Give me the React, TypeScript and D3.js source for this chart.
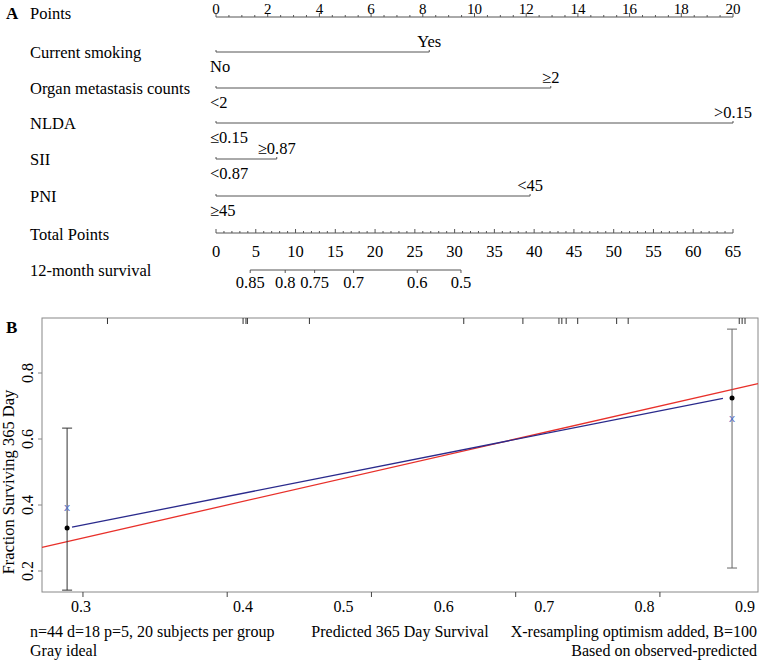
import React from "react";
import * as d3 from "d3";

// ---------- Panel A: nomogram data ----------
const pointsTicks = d3.range(0, 21, 2);
const pointsMinor = d3.range(0, 20.01, 0.5);
const variableNames = ["Current smoking", "Organ metastasis counts", "NLDA", "SII", "PNI"];
const lowLabels = ["No", "<2", "≤0.15", "<0.87", "≥45"];
const highLabels = ["Yes", "≥2", ">0.15", "≥0.87", "<45"];
const highPoints = [8.25, 12.95, 20, 2.35, 12.15];
const totalTicks = d3.range(0, 66, 5);
const totalMinor = d3.range(0, 66, 1);
const survivalLabels = ["0.85", "0.8", "0.75", "0.7", "0.6", "0.5"];
const survivalTotalPoints = [4.3, 8.7, 12.4, 17.3, 25.3, 30.8];

// ---------- Panel B: calibration data ----------
const groupPredicted = [0.289, 0.75];
const groupObserved = [0.33, 0.724];
const groupCorrected = [0.394, 0.664];
const groupLower = [0.142, 0.209];
const groupUpper = [0.633, 0.933];
const calibPredicted = [0.2924, 0.7437];
const calibObserved = [0.333, 0.723];
const rugPredicted = [0.317, 0.411, 0.413, 0.414, 0.457, 0.564, 0.605, 0.63, 0.632, 0.635, 0.643, 0.67, 0.678, 0.755, 0.757, 0.759];
const xTicks = [0.3, 0.4, 0.5, 0.6, 0.7];
const xTickLabels = [0.3, 0.4, 0.5, 0.6, 0.7, 0.8, 0.9];
const yTicks = [0.2, 0.4, 0.6, 0.8];

const FONT = "Liberation Serif, Times New Roman, serif";

export default function App() {
  const px = d3.scaleLinear().domain([0, 20]).range([216, 733]);
  const tx = d3.scaleLinear().domain([0, 65]).range([216, 733]);
  const rowY = [52, 88, 123, 159, 196];
  const axisColor = "#555";

  // Panel B scales
  const box = { x0: 42, x1: 758, y0: 318, y1: 592 };
  const xs = d3.scaleLinear().domain([0.2716, 0.768]).range([box.x0, box.x1]);
  const yScale = d3.scaleLinear().domain([0.2, 1.2]).range([571, 571 - 330]);
  const labelScale = d3.scaleLinear().domain([0.3, 0.4, 0.9]).range([81, 243, 745]);
  const ideal = d3.line<number>().x((v) => xs(v)).y((v) => yScale(v));
  const calib = d3.line<[number, number]>().x((d) => xs(d[0])).y((d) => yScale(d[1]));
  const calibPts: [number, number][] = calibPredicted.map((p, i) => [p, calibObserved[i]]);

  return (
    <svg width={759} height={660} style={{ position: "absolute", left: 0, top: 0, background: "#fff", fontFamily: FONT }} fontSize={16.5}>
      {/* ---------- Panel A ---------- */}
      <text x={6} y={19} fontWeight="bold" fontSize={17}>A</text>
      <text x={30} y={19}>Points</text>
      <line x1={px(0)} x2={px(20)} y1={17} y2={17} stroke={axisColor} />
      {pointsMinor.map((v) => (
        <line key={"pm" + v} x1={px(v)} x2={px(v)} y1={17} y2={pointsTicks.includes(v) ? 13 : 15} stroke={axisColor} />
      ))}
      {pointsTicks.map((v) => (
        <text key={"pt" + v} x={px(v)} y={14} textAnchor="middle" fontSize={15}>{v}</text>
      ))}

      {variableNames.map((name, i) => {
        const y = rowY[i];
        const x0 = px(0);
        const x1 = px(highPoints[i]);
        return (
          <g key={name}>
            <text x={30} y={y + 6}>{name}</text>
            <line x1={x0} x2={x1} y1={y} y2={y} stroke={axisColor} />
            <line x1={x0} x2={x0} y1={y} y2={y - 2} stroke={axisColor} />
            <line x1={x1} x2={x1} y1={y} y2={y - 2} stroke={axisColor} />
            <text x={x0 - 6} y={y + 20}>{lowLabels[i]}</text>
            <text x={x1} y={y - 5} textAnchor="middle">{highLabels[i]}</text>
          </g>
        );
      })}

      <text x={30} y={240}>Total Points</text>
      <line x1={tx(0)} x2={tx(65)} y1={233} y2={233} stroke={axisColor} />
      {totalMinor.map((v) => (
        <line key={"tm" + v} x1={tx(v)} x2={tx(v)} y1={233} y2={totalTicks.includes(v) ? 229 : 231} stroke={axisColor} />
      ))}
      {totalTicks.map((v) => (
        <text key={"tt" + v} x={tx(v)} y={257} textAnchor="middle">{v}</text>
      ))}

      <text x={30} y={276}>12-month survival</text>
      <line x1={tx(survivalTotalPoints[0])} x2={tx(survivalTotalPoints[survivalTotalPoints.length - 1])} y1={270} y2={270} stroke={axisColor} />
      {survivalTotalPoints.map((p, i) => (
        <g key={"sv" + i}>
          <line x1={tx(p)} x2={tx(p)} y1={270} y2={273} stroke={axisColor} />
          <text x={tx(p)} y={288} textAnchor="middle">{survivalLabels[i]}</text>
        </g>
      ))}

      {/* ---------- Panel B ---------- */}
      <text x={6} y={333} fontWeight="bold" fontSize={17}>B</text>
      <rect x={box.x0} y={box.y0} width={box.x1 - box.x0} height={box.y1 - box.y0} fill="none" stroke="#888" />

      {rugPredicted.map((v, i) => (
        <line key={"rug" + i} x1={xs(v)} x2={xs(v)} y1={box.y0} y2={box.y0 + 6} stroke="#333" strokeWidth={1} />
      ))}

      {xTicks.map((v) => (
        <line key={"xt" + v} x1={xs(v)} x2={xs(v)} y1={box.y1} y2={box.y1 + 5} stroke="#444" />
      ))}
      {xTickLabels.map((v) => (
        <text key={"xl" + v} x={labelScale(v)} y={612} textAnchor="middle" fontSize={16}>{v.toFixed(1)}</text>
      ))}

      {yTicks.map((v) => (
        <g key={"yt" + v}>
          <line x1={box.x0} x2={box.x0 - 4} y1={yScale(v)} y2={yScale(v)} stroke="#888" />
          <text transform={`translate(33,${yScale(v)}) rotate(-90)`} textAnchor="middle" fontSize={16}>{v.toFixed(1)}</text>
        </g>
      ))}
      <text transform="translate(14,482) rotate(-90)" textAnchor="middle" fontSize={16.5}>Fraction Surviving 365 Day</text>

      <path d={ideal([xs.domain()[0], xs.domain()[1]]) || ""} stroke="#e8302a" strokeWidth={1.3} fill="none" />
      <path d={calib(calibPts) || ""} stroke="#2a2a8c" strokeWidth={1.3} fill="none" />

      {groupPredicted.map((p, i) => {
        const x = xs(p);
        return (
          <g key={"grp" + i}>
            <line x1={x} x2={x} y1={yScale(groupLower[i])} y2={yScale(groupUpper[i])} stroke={i === 0 ? "#333" : "#666"} />
            <line x1={x - 5} x2={x + 5} y1={yScale(groupLower[i])} y2={yScale(groupLower[i])} stroke={i === 0 ? "#333" : "#666"} />
            <line x1={x - 5} x2={x + 5} y1={yScale(groupUpper[i])} y2={yScale(groupUpper[i])} stroke={i === 0 ? "#333" : "#666"} />
            <circle cx={x} cy={yScale(groupObserved[i])} r={2.5} fill="#000" />
            <text x={x} y={yScale(groupCorrected[i]) + 4} textAnchor="middle" fontSize={11} fill="#5a73c8" style={{ fontFamily: "DejaVu Sans, sans-serif" }}>x</text>
          </g>
        );
      })}

      <text x={30} y={637} fontSize={16}>n=44 d=18 p=5, 20 subjects per group</text>
      <text x={30} y={656} fontSize={16}>Gray ideal</text>
      <text x={400} y={637} textAnchor="middle" fontSize={16}>Predicted 365 Day Survival</text>
      <text x={757} y={637} textAnchor="end" fontSize={16}>X-resampling optimism added, B=100</text>
      <text x={757} y={656} textAnchor="end" fontSize={16}>Based on observed-predicted</text>
    </svg>
  );
}
